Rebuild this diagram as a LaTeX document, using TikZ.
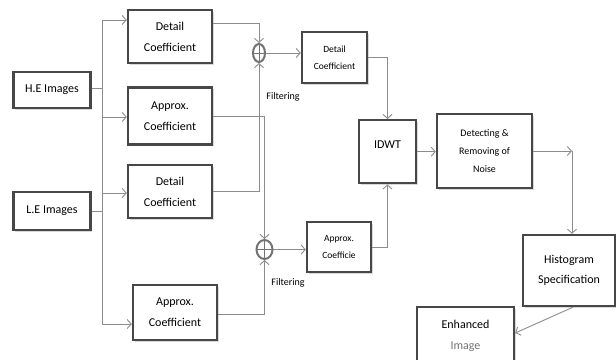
\documentclass[tikz,border=0pt]{standalone}
\usepackage{fontspec}
\setmainfont{Carlito}
\usetikzlibrary{arrows.meta,shadows,shapes.geometric}

\begin{document}
\begin{tikzpicture}[x=1pt,y=-1pt,->,>={Straight Barb[length=4pt,width=9pt]},line width=0.9pt,draw=black!45,
        main node/.style={rectangle,draw=black!72,line width=2.4pt,fill=white,align=center,text=black,
            drop shadow={shadow xshift=1.5pt,shadow yshift=-1.5pt,opacity=0.3}},
        coef node/.style={main node,minimum width=84pt,font=\fontsize{12}{21}\selectfont},
        small node/.style={main node,font=\fontsize{9.5}{17}\selectfont},
        sum node/.style={ellipse,draw=black!55,line width=2pt,minimum width=12pt,minimum height=18pt,inner sep=0pt},
        label node/.style={font=\fontsize{10}{12}\selectfont,text=black}]
        \useasboundingbox (0,0) rectangle (616,359);

        \node[main node,minimum width=77pt,minimum height=36pt,font=\fontsize{12}{14}\selectfont] (he) at (52,90) {H.E Images};
        \node[main node,minimum width=77pt,minimum height=38pt,font=\fontsize{12}{14}\selectfont] (le) at (52,211) {L.E Images};
        \node[coef node,minimum height=53pt] (det1) at (170,36.5) {Detail\\Coefficient};
        \node[coef node,minimum height=57pt] (app1) at (170,116) {Approx.\\Coefficient};
        \node[coef node,minimum height=53pt] (det2) at (170,191.5) {Detail\\Coefficient};
        \node[coef node,minimum height=55pt] (app2) at (175,312.5) {Approx.\\Coefficient};
        \node[sum node] (sum1) at (259,53) {};
        \node[sum node,minimum width=16pt,minimum height=19pt] (sum2) at (264.5,249.5) {};
        \node[small node,minimum width=65pt,minimum height=51pt] (det3) at (334.5,57.5) {Detail\\Coefficient};
        \node[small node,minimum width=64pt,minimum height=50pt] (app3) at (339,247) {Approx.\\Coefficie};
        \node[main node,anchor=north,minimum width=57pt,inner ysep=18pt,text height=10pt,text depth=17pt,
            font=\fontsize{12}{14}\selectfont] (idwt) at (387.5,119) {IDWT};
        \node[main node,minimum width=95pt,minimum height=74pt,font=\fontsize{10}{18}\selectfont] (noise) at (484.5,151) {Detecting \&\\Removing of\\Noise};
        \node[main node,minimum width=92pt,minimum height=71pt,font=\fontsize{12}{20}\selectfont] (hist) at (569,270.5) {Histogram\\Specification};
        \node[main node,minimum width=97pt,minimum height=58pt,font=\fontsize{12}{21}\selectfont] (enh) at (465.5,336) {Enhanced\\\textcolor{black!55}{Image}};
        \node[label node] (filt1) at (283,97) {Filtering};
        \node[label node] (filt2) at (288,283) {Filtering};

        % fork from the two inputs
        \coordinate (top) at (102,20);
        \coordinate (bot) at (102,324);
        \coordinate (heb) at (102,88);
        \coordinate (leb) at (102,211);
        \coordinate (app1b) at (102,117);
        \coordinate (det2b) at (102,193);
        \draw[-] (he.east |- heb) -- (heb);
        \draw[-] (le.east |- leb) -- (leb);
        \draw[-] (top) -- (bot);
        \draw (top) -- (top -| det1.west);
        \draw (app1b) -- (app1b -| app1.west);
        \draw (det2b) -- (det2b -| det2.west);
        \draw (bot) -- (bot -| app2.west);

        % into the sums
        \draw ([yshift=13.5pt]det1.east) -| (sum1.north);
        \draw (det2.east) -| (sum1.south);
        \draw (app1.east) -| (sum2.north);
        \draw ([yshift=-1.5pt]app2.east) -| (sum2.south);
        \draw[-,draw=black!55] (sum1.west) -- (sum1.east) (sum1.north) -- (sum1.south)
            (sum2.west) -- (sum2.east) (sum2.north) -- (sum2.south);

        \draw (sum1.east) -- (sum1.east -| det3.west);
        \draw (sum2.east) -- (sum2.east -| app3.west);
        \draw (det3.east) -| (idwt.north);
        \draw (app3.east) -| (idwt.south);
        \draw (idwt.east) -- (idwt.east -| noise.west);

        \coordinate (turn) at (572,151);
        \draw (noise.east |- turn) -- (turn);
        \draw (turn) -- (turn |- hist.north);
        \draw ([xshift=4pt]hist.south) -- ([yshift=3pt]enh.east);
    \end{tikzpicture}
\end{document}
